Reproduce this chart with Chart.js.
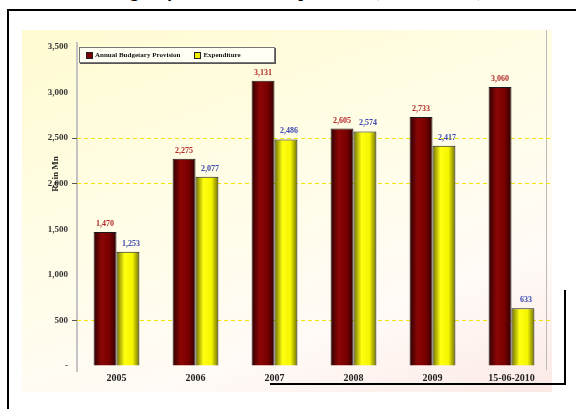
<!DOCTYPE html>
<html>
<head>
<meta charset="utf-8">
<script src="https://cdn.jsdelivr.net/npm/chart.js@4"></script>
<style>
  html, body { margin: 0; padding: 0; background: #fff; }
  body { width: 576px; height: 409px; position: relative; overflow: hidden; font-family: 'Liberation Serif', serif; }
  .title { position: absolute; left: 4px; top: -18px; font: bold 17px 'Liberation Serif', serif; white-space: nowrap; color: #000; }
  .frame { position: absolute; left: 7px; top: 9px; width: 580px; height: 420px; border-left: 2px solid #000; border-top: 2px solid #000; background: #fff; }
  .panel { position: absolute; left: 22px; top: 30px; width: 530px; height: 362px;
           background: linear-gradient(160deg, #fffbd2 0%, #fffde8 45%, #fffaf6 75%, #fbe9e6 100%); }
  .shadow { position: absolute; left: 270px; top: 290px; width: 294px; height: 93px; border-right: 2px solid #000; border-bottom: 2px solid #000; }
  .rightline { position: absolute; left: 546px; top: 30px; width: 1px; height: 340px; background: #bbb; }
  .axisline { position: absolute; left: 76px; top: 42px; width: 2px; height: 330px; background: #c4c4c4; }
  canvas { position: absolute; left: 0; top: 0; }
  .legend { position: absolute; left: 79px; top: 47px; width: 196px; height: 16px; background: #fffff4;
            border: 1px solid #777; box-shadow: 1px 1px 0 #555; display: flex; align-items: center; gap: 14px; padding-left: 6px; box-sizing: border-box;
            font: bold 7px 'Liberation Serif', serif; color: #111; }
  .legend span.sw { display: inline-block; width: 5px; height: 5px; border: 1px solid #222; margin-right: 2px; vertical-align: middle; }
</style>
</head>
<body>
<div class="frame"></div>
<div class="title">Government Budgetary Provisions &amp; Expenditure (Rs. in Million)</div>
<div class="panel"></div>
<div class="shadow"></div>
<div class="rightline"></div>
<div class="axisline"></div>
<canvas id="chart" width="576" height="409"></canvas>
<div class="legend" id="legend"></div>
<script>
const years = ['2005', '2006', '2007', '2008', '2009', '15-06-2010'];
const provision = [1470, 2275, 3131, 2605, 2733, 3060];
const expenditure = [1253, 2077, 2486, 2574, 2417, 633];
const seriesNames = ['Annual Budgetary Provision', 'Expenditure'];
const yTicks = [0, 500, 1000, 1500, 2000, 2500, 3000, 3500];
const gridValues = [500, 2000, 2500];
const axisTitle = 'Rs in Mn';

function barGradient(ctx, dark, mid, light) {
  const el = ctx.element;
  if (!el || !el.width || el.x == null) {
    return mid;
  }
  const g = ctx.chart.ctx.createLinearGradient(el.x - el.width / 2, 0, el.x + el.width / 2, 0);
  g.addColorStop(0, dark);
  g.addColorStop(0.35, light);
  g.addColorStop(0.7, mid);
  g.addColorStop(1, dark);
  return g;
}

const valueLabels = {
  id: 'valueLabels',
  afterDatasetsDraw(chart) {
    const ctx = chart.ctx;
    ctx.save();
    ctx.font = 'bold 8px "Liberation Serif", serif';
    ctx.textAlign = 'center';
    ctx.textBaseline = 'bottom';
    chart.data.datasets.forEach((ds, di) => {
      chart.getDatasetMeta(di).data.forEach((bar, i) => {
        ctx.fillStyle = di === 0 ? '#b22a2a' : '#3b48b0';
        ctx.fillText(ds.data[i].toLocaleString('en-US'), bar.x + (di === 1 ? 3 : 0), bar.y - 4);
      });
    });
    // rotated axis title
    ctx.translate(56, 174);
    ctx.rotate(-Math.PI / 2);
    ctx.font = 'bold 9px "Liberation Serif", serif';
    ctx.fillStyle = '#222';
    ctx.fillText(axisTitle, 0, 4);
    ctx.restore();
  }
};

const chart = new Chart(document.getElementById('chart'), {
  type: 'bar',
  data: {
    labels: years,
    datasets: [{
      label: seriesNames[0],
      data: provision,
      backgroundColor: (ctx) => barGradient(ctx, '#2e0000', '#780000', '#8c0606'),
      borderColor: '#1a1a1a',
      borderWidth: 1
    }, {
      label: seriesNames[1],
      data: expenditure,
      backgroundColor: (ctx) => barGradient(ctx, '#6e6e00', '#f5f500', '#ffff10'),
      borderColor: '#1a1a1a',
      borderWidth: 1
    }]
  },
  options: {
    responsive: false,
    animation: false,
    devicePixelRatio: 1,
    layout: { padding: { left: 20, top: 47, right: 25, bottom: 23 } },
    plugins: { legend: { display: false }, tooltip: { enabled: false } },
    datasets: { bar: { barPercentage: 1, categoryPercentage: 0.58 } },
    scales: {
      x: {
        grid: { display: false, drawTicks: false },
        border: { display: false },
        ticks: { color: '#222', font: { family: 'Liberation Serif', weight: 'bold', size: 10 }, padding: 6, maxRotation: 0, autoSkip: false },
        afterFit: (scale) => { scale.height = 20; }
      },
      y: {
        min: 0,
        max: 3500,
        afterBuildTicks: (scale) => { scale.ticks = yTicks.map((v) => ({ value: v })); },
        ticks: {
          color: '#333',
          font: { family: 'Liberation Serif', weight: 'bold', size: 9 },
          padding: 4,
          callback: (v) => (v === 0 ? '-' : v.toLocaleString('en-US'))
        },
        grid: {
          color: (ctx) => (ctx.tick && gridValues.includes(ctx.tick.value) ? '#f2e600' : 'rgba(0,0,0,0)'),
          tickColor: (ctx) => (ctx.tick && gridValues.includes(ctx.tick.value) ? '#555' : 'rgba(0,0,0,0)'),
          tickLength: 5,
          lineWidth: 1
        },
        border: { display: false, dash: [4, 3] },
        afterFit: (scale) => { scale.width = 57; }
      }
    }
  },
  plugins: [valueLabels]
});
chart.update();

document.getElementById('legend').innerHTML = seriesNames.map((name, i) =>
  `<div><span class="sw" style="background:${i === 0 ? '#780000' : '#f0f000'}"></span>${name}</div>`
).join('');
</script>
</body>
</html>
